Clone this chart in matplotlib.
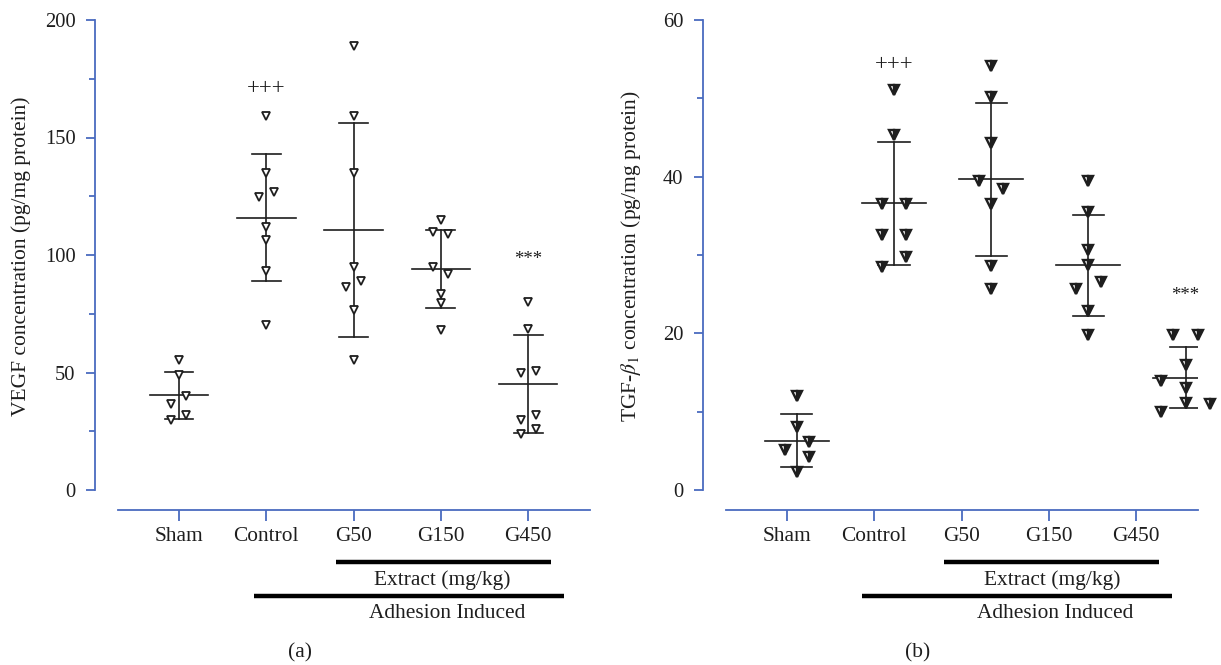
import numpy as np
import matplotlib
matplotlib.use("Agg")
import matplotlib.pyplot as plt
from matplotlib.transforms import blended_transform_factory
from matplotlib.ticker import MultipleLocator

plt.rcParams['font.family'] = ['Liberation Serif', 'DejaVu Serif']
plt.rcParams['mathtext.fontset'] = 'stix'

# ---------------- data ----------------
categories = ['Sham', 'Control', 'G50', 'G150', 'G450']

vegf_sham = [55.4, 48.8, 39.8, 36.7, 32.0, 29.6]
vegf_control = [159.2, 134.8, 126.6, 124.7, 112.1, 106.2, 93.0, 70.3]
vegf_g50 = [188.9, 159.3, 134.8, 95.1, 89.0, 86.3, 76.4, 55.4]
vegf_g150 = [114.8, 110.0, 108.9, 95.1, 92.0, 83.3, 79.5, 68.2]
vegf_g450 = [80.2, 68.5, 49.8, 50.7, 29.9, 31.9, 24.0, 26.1]

# column slot of each point inside its group (-2 .. 2)
vegf_sham_slot = [0, 0, 1, -1, 1, -1]
vegf_control_slot = [0, 0, 1, -1, 0, 0, 0, 0]
vegf_g50_slot = [0, 0, 0, 0, 1, -1, 0, 0]
vegf_g150_slot = [0, -1, 1, -1, 1, 0, 0, 0]
vegf_g450_slot = [0, 0, -1, 1, -1, 1, -1, 1]

tgf_sham = [12.0, 8.1, 6.1, 5.1, 4.2, 2.3]
tgf_control = [51.1, 45.3, 36.5, 36.5, 32.6, 32.6, 29.7, 28.5]
tgf_g50 = [54.1, 50.2, 44.3, 39.5, 38.4, 36.5, 28.6, 25.7]
tgf_g150 = [39.5, 35.5, 30.7, 28.7, 26.6, 25.7, 22.8, 19.8]
tgf_g450 = [19.8, 19.8, 16.0, 13.9, 13.0, 11.1, 11.0, 10.0]

tgf_sham_slot = [0, 0, 1, -1, 1, 0]
tgf_control_slot = [0, 0, -1, 1, -1, 1, 1, -1]
tgf_g50_slot = [0, 0, 0, -1, 1, 0, 0, 0]
tgf_g150_slot = [0, 0, 0, 0, 1, -1, 0, 0]
tgf_g450_slot = [-1, 1, 0, -2, 0, 0, 2, -2]

vegf_label = 'VEGF concentration (pg/mg protein)'
tgf_label = r'TGF-$\beta_1$ concentration (pg/mg protein)'
extract_label = 'Extract (mg/kg)'
adhesion_label = 'Adhesion Induced'

# ---------------- figure ----------------
W, H = 1221, 665
fig = plt.figure(figsize=(W / 100, H / 100), dpi=100)

AXIS_BLUE = '#4a6bbf'
INK = '#1e1e1e'
TXT = 15.4


def fy(px):
    return 1 - px / H


def panel(left_px, ymax, ystep, yminor, groups, slots, slot_w, ms, mew,
          fill, mean_w, cap_w, xlim, xstart, tick_pos, ylabel, ylabel_x,
          plus_y, star_y, bar_ext, bar_adh, text_x, letter, letter_x):
    ax = fig.add_axes([left_px / W, fy(490), 495 / W, 470 / H])
    ax.set_xlim(*xlim)
    ax.set_ylim(0, ymax)
    for s in ('top', 'right'):
        ax.spines[s].set_visible(False)
    for s in ('left', 'bottom'):
        ax.spines[s].set_color(AXIS_BLUE)
        ax.spines[s].set_linewidth(1.3)
    ax.spines['left'].set_bounds(0, ymax)
    ax.spines['bottom'].set_bounds(xstart, xlim[1])
    ax.spines['bottom'].set_position(('outward', 14.4))
    ax.set_yticks(np.arange(0, ymax + 0.1, ystep))
    ax.yaxis.set_minor_locator(MultipleLocator(yminor))
    ax.set_xticks(tick_pos)
    ax.set_xticklabels(categories)
    ax.tick_params(axis='y', which='major', length=6.5, width=1.3,
                   color=AXIS_BLUE, labelsize=14.8, pad=7.5, labelcolor=INK)
    ax.tick_params(axis='y', which='minor', length=4.3, width=1.3,
                   color=AXIS_BLUE)
    ax.tick_params(axis='x', which='major', length=8, width=1.3,
                   color=AXIS_BLUE, labelsize=TXT, pad=4.5, labelcolor=INK)

    for i, (vals, sl) in enumerate(zip(groups, slots)):
        vals = np.asarray(vals, float)
        xs = i + np.asarray(sl, float) * slot_w
        m = vals.mean()
        sd = vals.std(ddof=1)
        ax.plot([i, i], [m - sd, m + sd], color=INK, lw=1.2, zorder=2)
        ax.plot([i - cap_w / 2, i + cap_w / 2], [m + sd, m + sd],
                color=INK, lw=1.2, zorder=2)
        ax.plot([i - cap_w / 2, i + cap_w / 2], [m - sd, m - sd],
                color=INK, lw=1.2, zorder=2)
        ax.plot([i - mean_w / 2, i + mean_w / 2], [m, m],
                color=INK, lw=1.2, zorder=2)
        ax.plot(xs, vals, linestyle='none', marker='v', ms=ms,
                markeredgewidth=mew, markeredgecolor=INK,
                markerfacecolor=INK if fill == 'right' else 'white',
                markerfacecoloralt='white',
                fillstyle=fill, clip_on=False, zorder=3)

    ax.text(1, plus_y, '+++', ha='center', va='center', fontsize=16.5,
            color=INK)
    ax.text(4, star_y, '***', ha='center', va='center', fontsize=13.5,
            color=INK)

    tr = blended_transform_factory(ax.transData, fig.transFigure)
    ax.plot(bar_ext, [fy(562)] * 2, color='black', lw=3.2,
            transform=tr, clip_on=False, solid_capstyle='butt')
    ax.plot(bar_adh, [fy(596)] * 2, color='black', lw=3.2,
            transform=tr, clip_on=False, solid_capstyle='butt')
    ax.text(text_x[0], fy(580), extract_label, transform=tr, ha='center',
            va='center', fontsize=TXT, color=INK)
    ax.text(text_x[1], fy(613), adhesion_label, transform=tr, ha='center',
            va='center', fontsize=TXT, color=INK)

    fig.text(ylabel_x / W, fy(256), ylabel, rotation=90, ha='center',
             va='center', fontsize=15.5, color=INK)
    fig.text(letter_x / W, fy(653), letter, ha='center', va='center',
             fontsize=TXT, color=INK)
    return ax


panel(95, 200, 50, 25,
      [vegf_sham, vegf_control, vegf_g50, vegf_g150, vegf_g450],
      [vegf_sham_slot, vegf_control_slot, vegf_g50_slot, vegf_g150_slot,
       vegf_g450_slot],
      slot_w=0.086, ms=5.6, mew=1.3, fill='full', mean_w=0.67, cap_w=0.33,
      xlim=(-0.962, 4.708), xstart=-0.699, tick_pos=np.arange(5),
      ylabel=vegf_label, ylabel_x=21, plus_y=170.7, star_y=98.2,
      bar_ext=[1.80, 4.26], bar_adh=[0.86, 4.41], text_x=(3.02, 3.07),
      letter='(a)', letter_x=300)

panel(703, 60, 20, 10,
      [tgf_sham, tgf_control, tgf_g50, tgf_g150, tgf_g450],
      [tgf_sham_slot, tgf_control_slot, tgf_g50_slot, tgf_g150_slot,
       tgf_g450_slot],
      slot_w=0.125, ms=7.8, mew=1.7, fill='right', mean_w=0.66, cap_w=0.32,
      xlim=(-0.965, 4.128), xstart=-0.728,
      tick_pos=np.arange(5) * 0.898 - 0.10,
      ylabel=tgf_label, ylabel_x=631, plus_y=54.3, star_y=24.8,
      bar_ext=[1.51, 3.73], bar_adh=[0.67, 3.86], text_x=(2.63, 2.66),
      letter='(b)', letter_x=918)

fig.savefig('out.png', dpi=100)
